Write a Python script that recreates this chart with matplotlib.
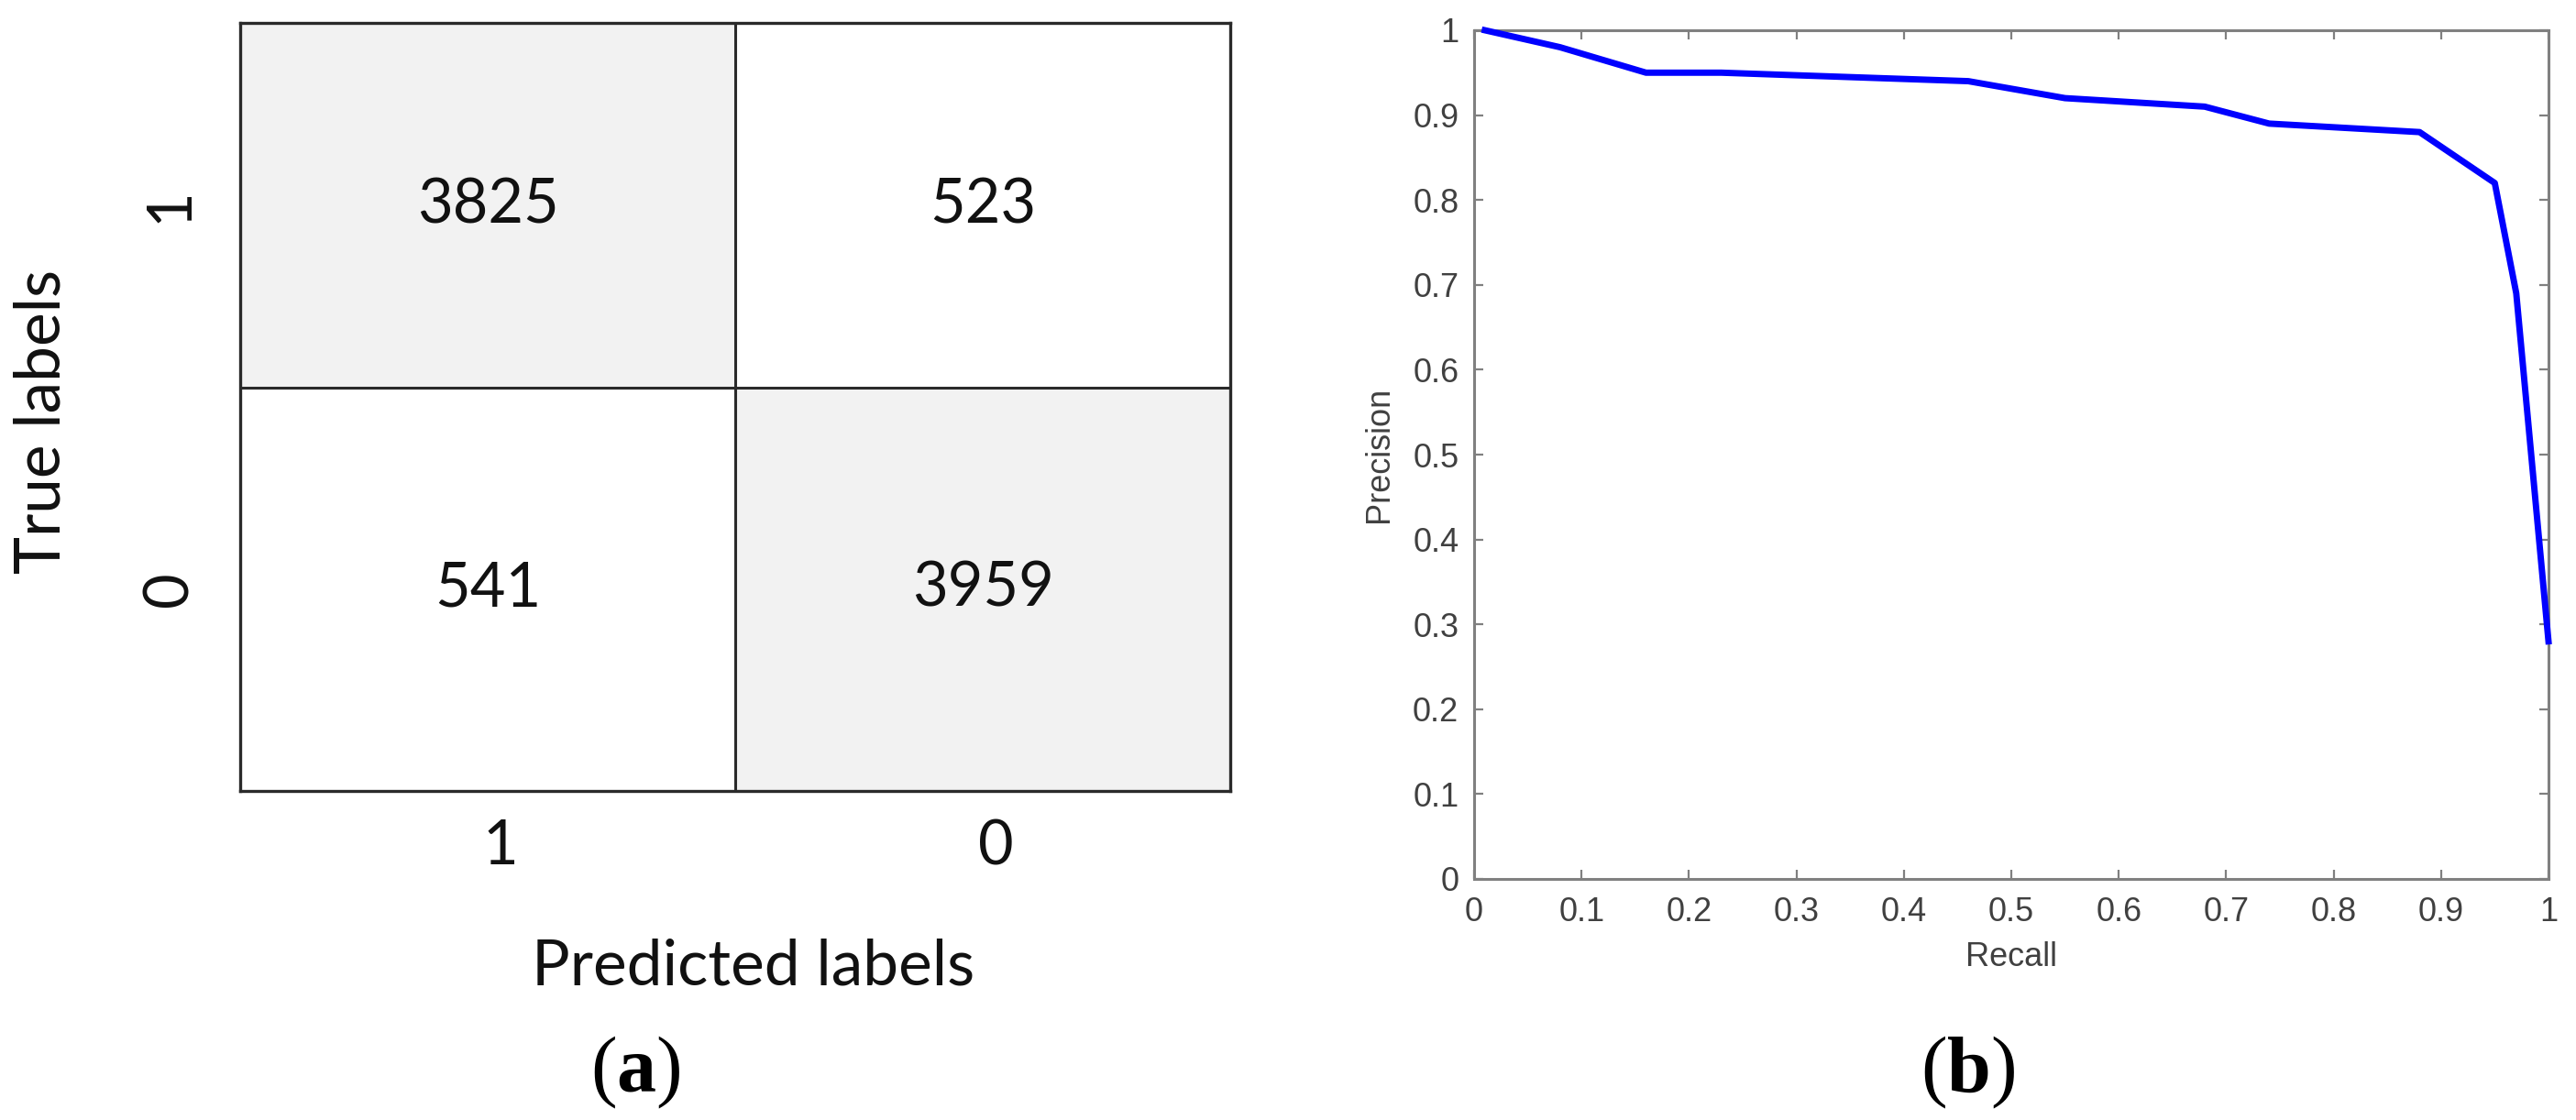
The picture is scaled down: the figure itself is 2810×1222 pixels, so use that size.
import matplotlib
matplotlib.use("Agg")
import matplotlib.pyplot as plt
import matplotlib.transforms as mtransforms
import numpy as np
from matplotlib.colors import ListedColormap

# ---------------- data ----------------
cm_values = [[3825, 523],
             [541, 3959]]
true_labels = ["1", "0"]
pred_labels = ["1", "0"]

recall = [0.01, 0.08, 0.16, 0.23, 0.46, 0.55, 0.68, 0.74, 0.88, 0.95, 0.97, 1.00]
precision = [1.00, 0.98, 0.95, 0.95, 0.94, 0.92, 0.91, 0.89, 0.88, 0.82, 0.69, 0.28]
pr_ticks = [0, 0.1, 0.2, 0.3, 0.4, 0.5, 0.6, 0.7, 0.8, 0.9, 1]

# ---------------- style ----------------
plt.rcParams["font.family"] = ["Liberation Sans", "DejaVu Sans"]
plt.rcParams["mathtext.fontset"] = "custom"
plt.rcParams["mathtext.rm"] = "Liberation Serif"
plt.rcParams["mathtext.bf"] = "Liberation Serif:bold"

W, H = 2810, 1222
fig = plt.figure(figsize=(W / 100, H / 100), dpi=100)

# ---------------- (a) confusion matrix ----------------
ax1 = fig.add_axes([262 / W, 1 - 863 / H, 1080 / W, 838 / H])
row_split = 2 * 398 / 838          # top row is slightly shorter than bottom row
x_edges = np.arange(3)
y_edges = np.array([0, row_split, 2])
shade = np.array([[1 if i == j else 0 for j in range(2)] for i in range(2)])
ax1.pcolormesh(x_edges, y_edges, shade, cmap=ListedColormap(["white", "#f2f2f2"]),
               vmin=0, vmax=1)
ax1.set_xlim(0, 2)
ax1.set_ylim(2, 0)
row_centers = (y_edges[:-1] + y_edges[1:]) / 2
col_centers = (x_edges[:-1] + x_edges[1:]) / 2
cal = ["Lato", "DejaVu Sans"]
for i in range(2):
    for j in range(2):
        ax1.text(col_centers[j], row_centers[i], str(cm_values[i][j]),
                 ha="center", va="center", fontsize=48, family=cal, color="#111111")
line_c = "#2a2a2a"
ax1.axvline(1, color=line_c, lw=2.2)
ax1.axhline(row_split, color=line_c, lw=2.2)
for s in ax1.spines.values():
    s.set_color(line_c)
    s.set_linewidth(2.4)

# x tick labels (drawn as text, nudged slightly right as in the original)
ax1.set_xticks([])
xlab_tr = mtransforms.blended_transform_factory(ax1.transData, ax1.transAxes) + \
    mtransforms.ScaledTranslation(0.14, -0.30, fig.dpi_scale_trans)
for c, lab in zip(col_centers, pred_labels):
    ax1.text(c, 0, lab, transform=xlab_tr, ha="center", va="top",
             fontsize=48, family=cal, color="#111111")
ax1.set_yticks(row_centers)
ax1.set_yticklabels(true_labels, family=cal, fontsize=48, color="#111111",
                    rotation=90, va="center")
ax1.tick_params(axis="y", length=0, pad=33)
ax1.text(-0.2, 0.481, "True labels", transform=ax1.transAxes, rotation=90,
         ha="center", va="center", fontsize=50, family=cal, color="#111111")
ax1.text(0.5185, -0.229, "Predicted labels", transform=ax1.transAxes,
         ha="center", va="center", fontsize=50, family=cal, color="#111111")

# ---------------- (b) precision-recall curve ----------------
ax2 = fig.add_axes([1608 / W, 1 - 959 / H, 1172 / W, 926 / H])
ax2.plot(recall, precision, color="#0000ff", lw=5, clip_on=False, zorder=5)
ax2.set_xlim(0, 1)
ax2.set_ylim(0, 1)
ax2.set_xticks(pr_ticks)
ax2.set_yticks(pr_ticks)
ax2.set_xticklabels([f"{t:g}" for t in pr_ticks])
ax2.set_yticklabels([f"{t:g}" for t in pr_ticks])
ax2.tick_params(direction="in", length=7.5, width=1.6, color="#808080",
                top=True, right=True, labelsize=26, labelcolor="#404040")
ax2.tick_params(axis="x", pad=14)
ax2.tick_params(axis="y", pad=12)
for s in ax2.spines.values():
    s.set_color("#808080")
    s.set_linewidth(2.2)
ax2.set_xlabel("Recall", fontsize=26, color="#404040", labelpad=10)
ax2.set_ylabel("Precision", fontsize=26, color="#404040", labelpad=14)

# ---------------- panel captions ----------------
fig.text(693 / W, 1 - 1170 / H, r"($\mathbf{a}$)", ha="center", va="center",
         fontsize=62, family=["Liberation Serif", "DejaVu Serif"], color="black")
fig.text(2147 / W, 1 - 1170 / H, r"($\mathbf{b}$)", ha="center", va="center",
         fontsize=62, family=["Liberation Serif", "DejaVu Serif"], color="black")

fig.savefig("out.png", dpi=100, facecolor="white")
